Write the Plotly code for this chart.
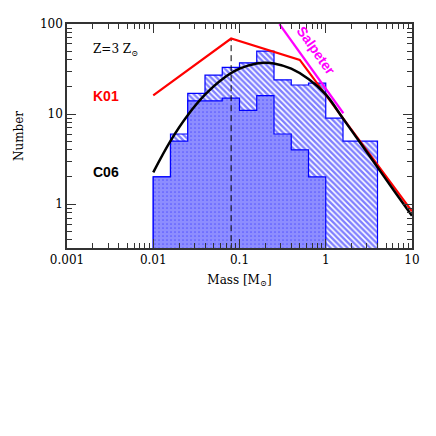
import numpy as np
import plotly.graph_objects as go

# ---- data ----
log_bin_edges = [-2.0, -1.8, -1.6, -1.4, -1.2, -1.0, -0.8, -0.6, -0.4, -0.2, 0.0, 0.2, 0.4, 0.6]
total_counts = [2, 6, 17, 27, 33, 37, 50, 24, 21, 22, 9, 5, 5]
subset_counts = [2, 5, 14, 14, 15, 11, 16, 6, 4, 2]

k01_mass = [0.01, 0.08, 0.5, 10.0]
k01_number = [16.1, 69.0, 40.0, 0.83]

c06_mass = [0.01, 0.0158, 0.0251, 0.0398, 0.0631, 0.1, 0.158, 0.2, 0.251, 0.398, 0.631, 1.0, 1.585, 2.512, 3.981, 6.31, 10.0]
c06_number = [2.25, 5.0, 9.7, 16.4, 24.4, 31.9, 36.4, 37.0, 36.4, 31.9, 24.5, 16.5, 8.9, 4.8, 2.56, 1.37, 0.74]

salpeter_mass = [0.29, 1.6]
salpeter_number = [100.0, 10.2]

peak_mass = 0.08

x_tickvals = [0.001, 0.01, 0.1, 1, 10]
x_ticktext = ["0.001", "0.01", "0.1", "1", "10"]
y_tickvals = [1, 10, 100]
y_ticktext = ["1", "10", "100"]

FLOOR = 0.05


def step_polygon(log_edges, counts):
    edges = [10 ** e for e in log_edges[: len(counts) + 1]]
    xs = [edges[0]]
    ys = [FLOOR]
    for i, c in enumerate(counts):
        xs += [edges[i], edges[i + 1]]
        ys += [c, c]
    xs.append(edges[len(counts)])
    ys.append(FLOOR)
    xs.append(edges[0])
    ys.append(FLOOR)
    return xs, ys


fig = go.Figure()

tx, ty = step_polygon(log_bin_edges, total_counts)
fig.add_trace(go.Scatter(
    x=tx, y=ty, mode="lines", fill="toself",
    line=dict(color="#0000ff", width=1.2),
    fillcolor="rgba(0,0,0,0)",
    fillpattern=dict(shape="\\", fgcolor="#0000ff", bgcolor="white", size=4, solidity=0.6),
    hoverinfo="skip", showlegend=False,
))

sx, sy = step_polygon(log_bin_edges, subset_counts)
fig.add_trace(go.Scatter(
    x=sx, y=sy, mode="lines", fill="toself",
    line=dict(color="#0000ff", width=1.2),
    fillcolor="rgba(0,0,0,0)",
    fillpattern=dict(shape=".", fgcolor="white", bgcolor="#1a1aff", size=4, solidity=0.85),
    hoverinfo="skip", showlegend=False,
))

# dashed vertical line at K01 peak
fig.add_trace(go.Scatter(
    x=[peak_mass, peak_mass], y=[FLOOR, k01_number[1]], mode="lines",
    line=dict(color="black", width=1, dash="6px,4px"),
    hoverinfo="skip", showlegend=False,
))

fig.add_trace(go.Scatter(
    x=salpeter_mass, y=salpeter_number, mode="lines",
    line=dict(color="#ff00ff", width=2.2), showlegend=False, hoverinfo="skip",
))
fig.add_trace(go.Scatter(
    x=k01_mass, y=k01_number, mode="lines",
    line=dict(color="#ff0000", width=2.2), showlegend=False, hoverinfo="skip",
))
fig.add_trace(go.Scatter(
    x=c06_mass, y=c06_number, mode="lines", line_shape="spline",
    line=dict(color="black", width=2.5), showlegend=False, hoverinfo="skip",
))

serif = "DejaVu Serif"
sans_bold = "Liberation Sans"

fig.add_annotation(x=-2.72, y=np.log10(52), xref="x", yref="y",
                   text="Z=3 Z<sub>⊙</sub>", showarrow=False, xanchor="left",
                   font=dict(family=serif, size=12, color="black"))
fig.add_annotation(x=-2.72, y=1.2, xref="x", yref="y",
                   text="<b>K01</b>", showarrow=False, xanchor="left",
                   font=dict(family=sans_bold, size=14, color="#ff0000"))
fig.add_annotation(x=-2.72, y=0.36, xref="x", yref="y",
                   text="<b>C06</b>", showarrow=False, xanchor="left",
                   font=dict(family=sans_bold, size=14, color="black"))
fig.add_annotation(x=np.log10(0.78), y=np.log10(50), xref="x", yref="y",
                   text="<b>Salpeter</b>", showarrow=False, textangle=54.7,
                   font=dict(family=sans_bold, size=14, color="#ff00ff"))

axis_common = dict(
    type="log", showgrid=False, zeroline=False, showline=True,
    linecolor="#333333", linewidth=1.5, mirror="ticks",
    ticks="inside", ticklen=9, tickwidth=1.2, tickcolor="#333333",
    minor=dict(ticks="inside", ticklen=5, tickwidth=1, tickcolor="#333333", dtick="D1"),
    tickfont=dict(family=serif, size=12, color="black"),
    automargin=False,
)

fig.update_xaxes(**axis_common, range=[-3, 1], tickvals=x_tickvals, ticktext=x_ticktext,
                 title=dict(text="Mass [M<sub>⊙</sub>]", font=dict(family=serif, size=12, color="black"), standoff=9))
fig.update_yaxes(**axis_common, range=[np.log10(0.325), 2.0], tickvals=y_tickvals, ticktext=y_ticktext,
                 title=dict(text="Number", font=dict(family=serif, size=12, color="black"), standoff=14))

# page body has an 8px margin, so the figure is offset by 8px
fig.update_layout(
    width=428, height=428,
    margin=dict(l=59, r=24, t=16, b=188),
    paper_bgcolor="white", plot_bgcolor="white",
    showlegend=False,
)

fig.write_html("out.html")
